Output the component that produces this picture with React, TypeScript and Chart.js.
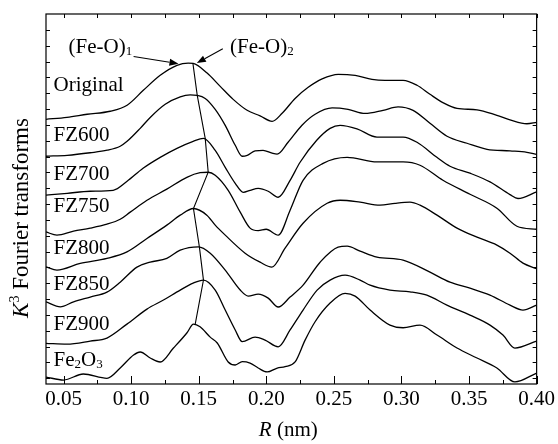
import { useEffect, useRef } from "react";
import { Chart, registerables } from "chart.js";

Chart.register(...registerables);

// ---- Data (R in nm, intensity in arbitrary stacked units) ----
const ORIGINAL: [number, number][] = [
  [0.037, 16.35], [0.0525, 16.48], [0.0675, 16.67], [0.0845, 16.86], [0.097, 17.24], [0.109, 18.18],
  [0.1215, 19.13], [0.1339, 19.76], [0.1422, 19.9], [0.1459, 19.88], [0.1562, 19.27], [0.1659, 18.43],
  [0.1755, 17.61], [0.1858, 16.92], [0.1954, 16.57], [0.2043, 16.22], [0.2117, 16.73], [0.2213, 17.67],
  [0.231, 18.37], [0.2413, 18.9], [0.2532, 19.19], [0.2657, 19.12], [0.2782, 18.87], [0.2878, 18.81],
  [0.3012, 18.81], [0.3115, 18.5], [0.3211, 17.93], [0.331, 17.39], [0.3411, 17.04], [0.3559, 16.95],
  [0.3706, 16.6], [0.3803, 16.32], [0.3928, 16.07], [0.4, 16.16],
];
const FZ600: [number, number][] = [
  [0.037, 14.02], [0.0527, 14.08], [0.0697, 14.24], [0.0823, 14.4], [0.0919, 14.65], [0.097, 14.96],
  [0.1067, 15.78], [0.1141, 16.47], [0.1252, 17.3], [0.1363, 17.77], [0.1437, 17.89], [0.1489, 17.86],
  [0.1548, 17.67], [0.1622, 16.98], [0.1696, 15.97], [0.177, 14.71], [0.1822, 14.02], [0.1859, 14.08],
  [0.1917, 14.36], [0.1976, 14.39], [0.2043, 14.21], [0.208, 14.15], [0.2161, 14.9], [0.2264, 15.98],
  [0.2361, 16.67], [0.2487, 17.07], [0.2605, 16.98], [0.2731, 16.72], [0.2864, 16.92], [0.2975, 17.14],
  [0.3086, 16.92], [0.3211, 16.1], [0.3337, 15.28], [0.3485, 14.84], [0.3633, 14.46], [0.3803, 14.36],
  [0.3928, 14.27], [0.4, 14.14],
];
const FZ700: [number, number][] = [
  [0.037, 11.56], [0.0527, 11.68], [0.0697, 11.81], [0.0867, 11.87], [0.097, 12.44], [0.1088, 13.26],
  [0.1215, 13.95], [0.1339, 14.52], [0.1459, 14.96], [0.1535, 15.15], [0.1622, 14.39], [0.1696, 13.32],
  [0.177, 12.31], [0.1829, 11.74], [0.1881, 11.87], [0.194, 11.99], [0.2014, 11.81], [0.2088, 11.43],
  [0.2176, 12.5], [0.225, 13.64], [0.2373, 15.03], [0.2472, 15.78], [0.2546, 15.97], [0.2671, 15.75],
  [0.2819, 15.23], [0.3012, 15.23], [0.3115, 14.9], [0.3262, 13.95], [0.3359, 13.39], [0.3507, 12.95],
  [0.3655, 12.4], [0.3803, 11.6], [0.3862, 11.35], [0.4, 11.77],
];
const FZ750: [number, number][] = [
  [0.037, 9.24], [0.0451, 9.04], [0.0574, 9.29], [0.0697, 9.48], [0.0821, 9.73], [0.0919, 10.04],
  [0.0993, 10.49], [0.1117, 11.24], [0.1264, 11.94], [0.1412, 12.69], [0.151, 12.98], [0.157, 13.01],
  [0.1622, 12.82], [0.1718, 11.87], [0.1807, 10.49], [0.188, 9.48], [0.194, 9.32], [0.1999, 9.41],
  [0.2088, 9.04], [0.2176, 10.61], [0.2272, 12.5], [0.242, 13.57], [0.2598, 13.95], [0.2819, 13.66],
  [0.3012, 13.66], [0.3137, 13.45], [0.3307, 12.5], [0.3507, 11.62], [0.3706, 10.74], [0.3854, 9.6],
  [0.4, 9.41],
];
const FZ800: [number, number][] = [
  [0.037, 7.04], [0.0451, 6.83], [0.0623, 7.25], [0.0821, 7.57], [0.0969, 7.98], [0.1117, 8.83],
  [0.1264, 9.67], [0.1363, 10.3], [0.1461, 10.72], [0.156, 10.3], [0.1622, 9.67], [0.1696, 9.04],
  [0.1843, 7.9], [0.1954, 7.33], [0.2041, 7.02], [0.2139, 8.22], [0.2272, 9.79], [0.245, 11.05],
  [0.2546, 11.24], [0.2694, 11.12], [0.2841, 10.93], [0.2952, 11.05], [0.3063, 11.12], [0.3137, 10.93],
  [0.3263, 10.3], [0.3411, 9.48], [0.3559, 8.91], [0.3706, 8.41], [0.3803, 7.9], [0.3899, 7.27],
  [0.4, 6.92],
];
const FZ850: [number, number][] = [
  [0.037, 4.83], [0.0476, 4.51], [0.0574, 4.83], [0.0697, 5.13], [0.0821, 5.44], [0.0919, 6.07],
  [0.1043, 7.02], [0.1141, 7.33], [0.1264, 7.57], [0.1363, 8.09], [0.1498, 8.3], [0.1585, 7.9],
  [0.1696, 6.83], [0.1807, 5.57], [0.1866, 5.19], [0.194, 5.31], [0.2014, 5.06], [0.2088, 4.5],
  [0.2176, 5.13], [0.2272, 5.88], [0.2398, 7.33], [0.2531, 8.28], [0.2598, 8.34], [0.2694, 8.03],
  [0.2819, 7.65], [0.3012, 7.46], [0.3211, 6.7], [0.3359, 6.07], [0.3507, 5.69], [0.3655, 5.25],
  [0.3803, 4.62], [0.3899, 4.31], [0.4, 4.62],
];
const FZ900: [number, number][] = [
  [0.037, 2.21], [0.0525, 2.16], [0.0697, 2.35], [0.0821, 2.54], [0.0969, 3.42], [0.1117, 4.37],
  [0.1239, 4.94], [0.1363, 5.57], [0.1459, 6.01], [0.1535, 6.2], [0.1622, 5.57], [0.1696, 4.31],
  [0.177, 3.05], [0.1822, 2.31], [0.1917, 2.6], [0.1991, 2.41], [0.2088, 1.99], [0.2176, 3.05],
  [0.2272, 4.31], [0.2376, 5.57], [0.2472, 6.2], [0.2583, 6.51], [0.2694, 6.2], [0.2768, 5.88],
  [0.2915, 5.57], [0.3063, 5.46], [0.3188, 5.25], [0.3336, 4.62], [0.3507, 3.99], [0.3655, 3.36],
  [0.3751, 2.73], [0.3839, 1.91], [0.4, 2.35],
];
const FE2O3: [number, number][] = [
  [0.037, 0.08], [0.05, -0.11], [0.0646, 0.27], [0.0821, 0.0], [0.0919, 0.65], [0.1018, 1.47],
  [0.1067, 1.66], [0.1141, 1.28], [0.1215, 1.03], [0.1313, 1.91], [0.1412, 2.86], [0.1461, 3.42],
  [0.151, 3.25], [0.1585, 2.6], [0.1637, 2.23], [0.1718, 1.03], [0.177, 0.84], [0.1822, 1.05],
  [0.188, 0.96], [0.194, 0.65], [0.2006, 0.4], [0.2081, 0.65], [0.2139, 0.73], [0.2213, 1.03],
  [0.2287, 2.41], [0.2361, 3.57], [0.2472, 4.75], [0.2583, 5.36], [0.2657, 5.19], [0.2768, 4.31],
  [0.2915, 3.36], [0.3012, 3.19], [0.3137, 3.36], [0.3263, 2.73], [0.3411, 1.91], [0.3559, 1.28],
  [0.3706, 0.65], [0.3839, -0.23], [0.4, 0.33],
];
// line joining the first-shell peaks
const PEAK_LINE: [number, number][] = [
  [0.1457, 19.88], [0.1489, 17.86], [0.1548, 15.15], [0.157, 13.01],
  [0.1461, 10.72], [0.1505, 8.28], [0.1535, 6.2], [0.1474, 3.42],
];

const SERIES = [ORIGINAL, FZ600, FZ700, FZ750, FZ800, FZ850, FZ900, FE2O3];
const SERIES_NAMES = ["Original", "FZ600", "FZ700", "FZ750", "FZ800", "FZ850", "FZ900", "Fe2O3"];
const LABEL_R = 0.0426;
const LABEL_Y = [18.57, 15.45, 12.93, 10.93, 8.3, 5.99, 3.47, 1.2];

const X_TICKS = [0.05, 0.1, 0.15, 0.2, 0.25, 0.3, 0.35, 0.4];
const X_MINOR = [0.075, 0.125, 0.175, 0.225, 0.275, 0.325, 0.375];
const Y_TICKS = [0, 1, 2, 3, 4, 5, 6, 7, 8, 9, 10, 11, 12, 13, 14, 15, 16, 17, 18, 19, 20, 21, 22];

// annotations: text anchor [R, y, subscript] and arrow [fromR, fromY, toR, toY]
const ANNO_TEXT: [number, number, string][] = [
  [0.0537, 20.98, "1"],
  [0.1732, 20.98, "2"],
];
const ANNO_ARROWS: [number, number, number, number][] = [
  [0.1018, 20.32, 0.135, 19.86],
  [0.1678, 20.81, 0.1486, 19.9],
];

const SERIF = "'Liberation Serif', 'Times New Roman', serif";
const F = 21;
const FS = 13;
const FT = 23;

type Run = { t: string; f: string; dy?: number };

function runsWidth(ctx: CanvasRenderingContext2D, runs: Run[]) {
  let w = 0;
  for (const r of runs) {
    ctx.font = r.f;
    w += ctx.measureText(r.t).width;
  }
  return w;
}
function drawRuns(ctx: CanvasRenderingContext2D, x: number, y: number, runs: Run[]) {
  let cx = x;
  for (const r of runs) {
    ctx.font = r.f;
    ctx.fillText(r.t, cx, y + (r.dy || 0));
    cx += ctx.measureText(r.t).width;
  }
}

const decorPlugin = {
  id: "decor",
  afterDraw(chart: any) {
    const { ctx, chartArea, scales } = chart;
    const { left, right, top, bottom } = chartArea;
    const x = scales.x;
    const y = scales.y;
    ctx.save();
    ctx.strokeStyle = "#000";
    ctx.fillStyle = "#000";
    // frame
    ctx.lineWidth = 1.2;
    ctx.strokeRect(left, top, right - left, bottom - top);
    // ticks (inward)
    ctx.lineWidth = 1;
    ctx.beginPath();
    for (const v of X_TICKS) {
      const p = Math.round(x.getPixelForValue(v)) + 0.5;
      ctx.moveTo(p, bottom);
      ctx.lineTo(p, bottom - 8);
      ctx.moveTo(p, top);
      ctx.lineTo(p, top + 4);
    }
    for (const v of X_MINOR) {
      const p = Math.round(x.getPixelForValue(v)) + 0.5;
      ctx.moveTo(p, bottom);
      ctx.lineTo(p, bottom - 4);
      ctx.moveTo(p, top);
      ctx.lineTo(p, top + 4);
    }
    for (const v of Y_TICKS) {
      const p = Math.round(y.getPixelForValue(v)) + 0.5;
      ctx.moveTo(left, p);
      ctx.lineTo(left + 4, p);
      ctx.moveTo(right, p);
      ctx.lineTo(right - 4, p);
    }
    ctx.stroke();

    // series labels
    const main = `${F}px ${SERIF}`;
    const sub = `${FS}px ${SERIF}`;
    ctx.textBaseline = "alphabetic";
    ctx.textAlign = "left";
    SERIES_NAMES.forEach((name, i) => {
      const px = x.getPixelForValue(LABEL_R);
      const py = y.getPixelForValue(LABEL_Y[i]) + 7;
      if (name === "Fe2O3") {
        drawRuns(ctx, px, py, [
          { t: "Fe", f: main },
          { t: "2", f: sub, dy: 2 },
          { t: "O", f: main },
          { t: "3", f: sub, dy: 2 },
        ]);
      } else {
        drawRuns(ctx, px, py, [{ t: name, f: main }]);
      }
    });

    // annotation texts
    for (const [r, v, s] of ANNO_TEXT) {
      const px = x.getPixelForValue(r);
      const py = y.getPixelForValue(v) + 7;
      drawRuns(ctx, px, py, [
        { t: "(Fe-O)", f: main },
        { t: s, f: sub, dy: 2 },
      ]);
    }
    // arrows
    ctx.lineWidth = 1.1;
    for (const [r0, v0, r1, v1] of ANNO_ARROWS) {
      const x0 = x.getPixelForValue(r0);
      const y0 = y.getPixelForValue(v0);
      const x1 = x.getPixelForValue(r1);
      const y1 = y.getPixelForValue(v1);
      const ang = Math.atan2(y1 - y0, x1 - x0);
      const hl = 9;
      const hw = 3.5;
      const bx = x1 - hl * Math.cos(ang);
      const by = y1 - hl * Math.sin(ang);
      ctx.beginPath();
      ctx.moveTo(x0, y0);
      ctx.lineTo(bx, by);
      ctx.stroke();
      ctx.beginPath();
      ctx.moveTo(x1, y1);
      ctx.lineTo(bx + hw * Math.sin(ang), by - hw * Math.cos(ang));
      ctx.lineTo(bx - hw * Math.sin(ang), by + hw * Math.cos(ang));
      ctx.closePath();
      ctx.fill();
    }

    // x title
    const xr: Run[] = [
      { t: "R", f: `italic ${F}px ${SERIF}` },
      { t: " (nm)", f: main },
    ];
    const xw = runsWidth(ctx, xr);
    drawRuns(ctx, (left + right) / 2 - 3 - xw / 2, 436, xr);

    // y title
    const yr: Run[] = [
      { t: "K", f: `italic ${FT}px ${SERIF}` },
      { t: "3", f: `14px ${SERIF}`, dy: -9 },
      { t: " Fourier transforms", f: `${FT}px ${SERIF}` },
    ];
    const yw = runsWidth(ctx, yr);
    ctx.translate(28, 218);
    ctx.rotate(-Math.PI / 2);
    drawRuns(ctx, -yw / 2, 0, yr);
    ctx.restore();
  },
};

export default function App() {
  const ref = useRef<HTMLCanvasElement | null>(null);
  useEffect(() => {
    if (!ref.current) return;
    const datasets: any[] = SERIES.map((s, i) => ({
      label: SERIES_NAMES[i],
      data: s.map(([r, v]) => ({ x: r, y: v })),
      borderColor: "#000",
      borderWidth: 1.3,
      pointRadius: 0,
      fill: false,
      cubicInterpolationMode: "monotone",
    }));
    datasets.push({
      label: "peaks",
      data: PEAK_LINE.map(([r, v]) => ({ x: r, y: v })),
      borderColor: "#000",
      borderWidth: 1.1,
      pointRadius: 0,
      fill: false,
      tension: 0,
    });
    const chart = new Chart(ref.current, {
      type: "line",
      data: { datasets },
      options: {
        responsive: false,
        animation: false,
        layout: { padding: { top: 14, right: 20, left: 0, bottom: 0 } },
        plugins: { legend: { display: false }, tooltip: { enabled: false } },
        scales: {
          x: {
            type: "linear",
            min: 0.037,
            max: 0.4,
            afterBuildTicks: (s: any) => {
              s.ticks = X_TICKS.map((v) => ({ value: v }));
            },
            afterFit: (s: any) => {
              s.height = 60;
            },
            grid: { display: false, drawTicks: false },
            border: { display: false },
            ticks: {
              autoSkip: false,
              maxRotation: 0,
              padding: 3,
              color: "#000",
              font: { family: SERIF, size: F },
              callback: (v: any) => Number(v).toFixed(2),
            },
          },
          y: {
            type: "linear",
            min: -0.36,
            max: 23,
            afterFit: (s: any) => {
              s.width = 46;
            },
            ticks: { display: false },
            grid: { display: false, drawTicks: false },
            border: { display: false },
          },
        },
      },
      plugins: [decorPlugin],
    });
    return () => chart.destroy();
  }, []);
  return (
    <div style={{ position: "absolute", left: 0, top: 0, width: 558, height: 444, background: "#fff" }}>
      <canvas ref={ref} width={558} height={444} style={{ width: 558, height: 444, display: "block" }} />
    </div>
  );
}
